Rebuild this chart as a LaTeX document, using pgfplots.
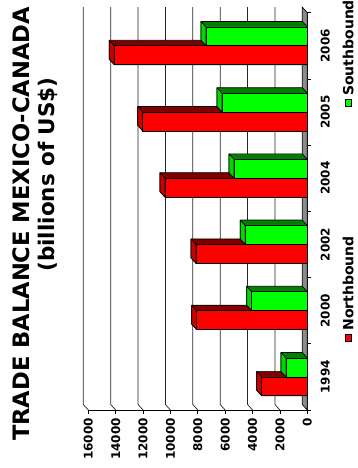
\documentclass[border=0pt]{standalone}
\usepackage{pgfplots}
\usepackage{pgfplotstable}
\pgfplotsset{compat=1.18}
\usepackage{fontspec}
\setmainfont{DejaVu Sans}

% Trade flows by year (category centre, year, northbound, southbound)
\pgfplotstableread{
pos  year north south
0.5  1994  3330  1560
1.5  2000  8080  4060
2.5  2002  8130  4530
3.5  2004 10400  5350
4.5  2005 12020  6230
5.5  2006 14100  7400
}\trade

\definecolor{nbfront}{RGB}{255,0,0}
\definecolor{nbend}{RGB}{200,0,0}
\definecolor{nbside}{RGB}{128,0,0}
\definecolor{sbfront}{RGB}{0,255,0}
\definecolor{sbend}{RGB}{0,215,0}
\definecolor{sbside}{RGB}{0,128,0}
\definecolor{floorgray}{RGB}{140,140,140}

% depth of the 3-D look, in axis units (value, category), and bar thickness
\def\dx{365.3}
\def\dy{0.0831}
\def\walltop{6.0831}
\def\bw{0.285}

% shaded faces behind one bar: #1 lower edge, #2 value, #3 end colour, #4 side colour
\newcommand\barfaces[4]{%
  \pgfmathsetmacro\ytop{#1+\bw}%
  \pgfmathsetmacro\ylb{#1+\dy}%
  \pgfmathsetmacro\ytb{#1+\bw+\dy}%
  \pgfmathsetmacro\vb{#2+\dx}%
  \addplot[forget plot, fill=#4, draw=black, line width=0.7bp, line join=round]
    coordinates {(0,#1) (#2,#1) (\vb,\ylb) (\vb,\ytb) (\dx,\ytb) (0,\ytop) (0,#1)};
  \addplot[forget plot, fill=#3, draw=black, line width=0.7bp, line join=round]
    coordinates {(#2,#1) (\vb,\ylb) (\vb,\ytb) (#2,\ytop) (#2,#1)};
}

\newcommand\lblfont{\bfseries\fontsize{12bp}{14bp}\selectfont}

% legend key: a small square set just below the start of the upright entry text
\pgfplotsset{
  upkey/.style={legend image code/.code={%
    \draw[overlay, fill=#1, draw=black, line width=0.6bp]
      (3.7bp,-8.5bp) rectangle (10.3bp,-2bp);}},
}

\begin{document}
\begin{tikzpicture}
\path[use as bounding box] (0,0) rectangle (358bp,468bp);

\begin{axis}[
  at={(307.3bp,58bp)}, anchor=south east,
  scale only axis, width=219bp, height=397.3bp,
  x dir=reverse,
  xmin=0, xmax=16000, ymin=0, ymax=6,
  clip=false,
  axis x line*=bottom, axis y line*=right,
  axis line style={line width=0.7bp},
  tick align=outside, major tick length=3.5bp,
  every tick/.style={black, line width=0.7bp},
  xtick={0,2000,4000,6000,8000,10000,12000,14000,16000},
  scaled x ticks=false,
  /pgf/number format/assume math mode=true,
  /pgf/number format/1000 sep={},
  xticklabel style={yshift=-1bp, rotate=90, anchor=east, font=\lblfont},
  ytick={0,1,...,6}, yticklabels={},
  extra y ticks={0.5,1.5,2.5,3.5,4.5,5.5},
  extra y tick labels={1994,2000,2002,2004,2005,2006},
  extra y tick style={major tick length=0pt,
    yticklabel style={xshift=10bp, rotate=90, anchor=north, font=\lblfont}},
  legend columns=1, reverse legend,
  legend style={at={(axis cs:-3485,1.1704)}, anchor=south east,
    draw=none, fill=none, inner sep=0pt, column sep=0bp, row sep=137bp,
    font=\bfseries\fontsize{14bp}{16bp}\selectfont,
    nodes={inner sep=1.5bp, text depth=0bp, rotate=90, anchor=south west},
    cells={anchor=south west}},
]

% back wall grid and its run across the side wall
\pgfplotsinvokeforeach{2000,4000,6000,8000,10000,12000,14000,16000}{
  \draw[black!85, line width=0.7bp]
    (axis cs:#1,0) -- ([shift={(-5bp,5.5bp)}]axis cs:#1,0)
    -- ([shift={(-5bp,5.5bp)}]axis cs:#1,6);
}

% floor
\addplot[forget plot, fill=floorgray, draw=black, line width=0.7bp]
  coordinates {(0,0) (\dx,\dy) (\dx,\walltop) (0,6) (0,0)};

% depth faces of every bar
\pgfplotsinvokeforeach{0,...,5}{
  \pgfplotstablegetelem{#1}{north}\of\trade \let\vn\pgfplotsretval
  \pgfplotstablegetelem{#1}{south}\of\trade \let\vs\pgfplotsretval
  \pgfmathsetmacro\ylo{#1+0.215}
  \pgfmathsetmacro\ymid{#1+0.5}
  \barfaces{\ylo}{\vn}{nbend}{nbside}
  \barfaces{\ymid}{\vs}{sbend}{sbside}
}

% front faces
\addplot[xbar, bar width=\bw, bar shift=-0.1425, fill=nbfront, draw=black,
  line width=0.7bp, upkey=nbfront]
  table[x=north, y=pos] {\trade};
\addplot[xbar, bar width=\bw, bar shift=0.1425, fill=sbfront, draw=black,
  line width=0.7bp, upkey=sbfront]
  table[x=south, y=pos] {\trade};
\legend{Northbound, Southbound}
\end{axis}

\node[rotate=90, anchor=base, inner sep=0pt,
  font=\bfseries\fontsize{22.6bp}{26bp}\selectfont] at (29.3bp,244bp)
  {TRADE BALANCE MEXICO-CANADA};
\node[rotate=90, anchor=base, inner sep=0pt,
  font=\bfseries\fontsize{21.5bp}{25bp}\selectfont] at (54bp,293.5bp)
  {(billions of US\$)};
\end{tikzpicture}
\end{document}
